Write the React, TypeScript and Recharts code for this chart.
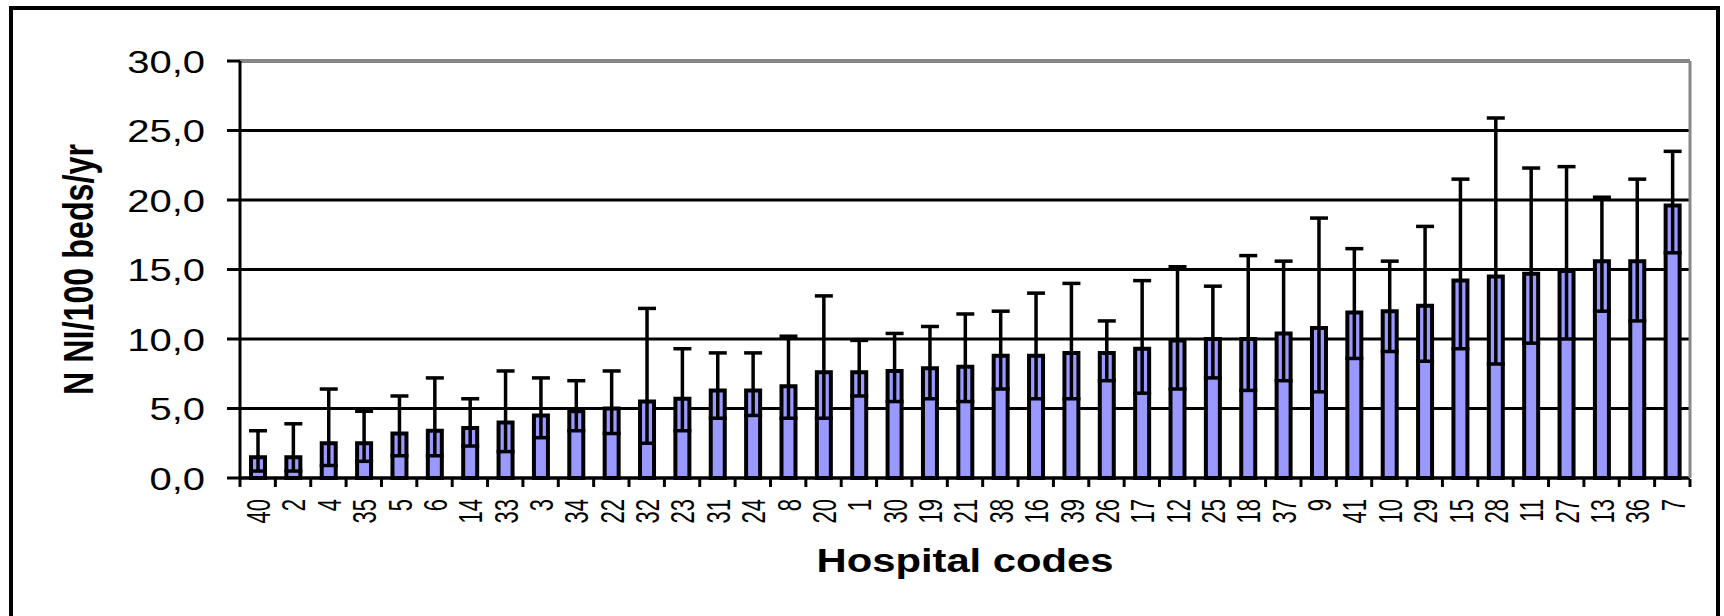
import { BarChart, Bar, XAxis, YAxis, CartesianGrid, ErrorBar, ReferenceLine } from 'recharts';

// hospital codes, sorted by rate (as in the source figure)
const codes = [40, 2, 4, 35, 5, 6, 14, 33, 3, 34, 22, 32, 23, 31, 24, 8, 20, 1, 30, 19, 21, 38, 16, 39, 26, 17, 12, 25, 18, 37, 9, 41, 10, 29, 15, 28, 11, 27, 13, 36, 7];

// N NI / 100 beds / yr
const rates = [1.5, 1.5, 2.5, 2.5, 3.2, 3.4, 3.6, 4.0, 4.5, 4.8, 5.0, 5.5, 5.7, 6.3, 6.3, 6.6, 7.6, 7.6, 7.7, 7.9, 8.0, 8.8, 8.8, 9.0, 9.0, 9.3, 9.9, 10.0, 10.0, 10.4, 10.8, 11.9, 12.0, 12.4, 14.2, 14.5, 14.7, 14.9, 15.6, 15.6, 19.6];

// confidence interval bounds
const upper = [3.4, 3.9, 6.4, 4.8, 5.9, 7.2, 5.7, 7.7, 7.2, 7.0, 7.7, 12.2, 9.3, 9.0, 9.0, 10.2, 13.1, 9.9, 10.4, 10.9, 11.8, 12.0, 13.3, 14.0, 11.3, 14.2, 15.2, 13.8, 16.0, 15.6, 18.7, 16.5, 15.6, 18.1, 21.5, 25.9, 22.3, 22.4, 20.2, 21.5, 23.5];
const lower = [0.5, 0.5, 0.9, 1.2, 1.6, 1.6, 2.3, 1.9, 2.9, 3.4, 3.2, 2.5, 3.4, 4.3, 4.5, 4.3, 4.3, 5.9, 5.5, 5.7, 5.5, 6.4, 5.7, 5.7, 7.0, 6.1, 6.4, 7.2, 6.3, 7.0, 6.2, 8.6, 9.1, 8.4, 9.3, 8.2, 9.7, 10.0, 12.0, 11.3, 16.2];

const yTicks = [0, 5, 10, 15, 20, 25, 30];
// category boundaries, for the tick marks between bars
const edgeTicks = Array.from({ length: codes.length + 1 }, (_, i) => i);

const chartData = codes.map((code, i) => ({
  code: String(code),
  pos: i + 0.5,
  rate: rates[i],
  err: [rates[i] - lower[i], upper[i] - rates[i]],
}));

const FONT = '"Liberation Sans", Arial, sans-serif';

const CodeTick = ({ x, y, payload }: any) => (
  <g transform={`translate(${x},${y}) rotate(-90) scale(1,1.55)`}>
    <text x={0} y={8} textAnchor="end" fontSize={22} fontFamily={FONT} fill="#000">
      {payload.value}
    </text>
  </g>
);

const ValueTick = ({ x, y, payload }: any) => (
  <g transform={`translate(${x},${y}) scale(1.25,1)`}>
    <text x={0} y={11.5} textAnchor="end" fontSize={32} fontFamily={FONT} fill="#000">
      {Number(payload.value).toFixed(1).replace('.', ',')}
    </text>
  </g>
);

const NoTick = () => <g />;

const YTitle = (props: any) => {
  const vb = props.viewBox || { x: 0, y: 61, width: 240, height: 417 };
  return (
    <g transform={`translate(${vb.x + 93},${vb.y + vb.height / 2}) rotate(-90) scale(1,1.45)`}>
      <text x={0} y={0} textAnchor="middle" fontSize={29} fontWeight="bold" fontFamily={FONT} fill="#000"
        textLength={251} lengthAdjust="spacingAndGlyphs">
        N NI/100 beds/yr
      </text>
    </g>
  );
};

const XTitle = (props: any) => {
  const vb = props.viewBox || { x: 240, y: 478, width: 1450, height: 1 };
  return (
    <text x={vb.x + vb.width / 2} y={478 + 94} textAnchor="middle" fontSize={33} fontWeight="bold"
      fontFamily={FONT} fill="#000" textLength={297} lengthAdjust="spacingAndGlyphs">
      Hospital codes
    </text>
  );
};

const App = () => {
  return (
    <div style={{ position: 'absolute', left: 0, top: 0, width: 1724, height: 616, overflow: 'hidden', background: '#fff' }}>
      <BarChart width={1724} height={616} data={chartData} margin={{ top: 61, right: 33, left: 0, bottom: 136 }}>
        <CartesianGrid vertical={false} stroke="#000" strokeWidth={3} />
        <XAxis
          xAxisId="edge"
          dataKey="pos"
          type="number"
          domain={[0, codes.length]}
          ticks={edgeTicks}
          interval={0}
          tick={<NoTick />}
          tickSize={8}
          tickLine={{ stroke: '#000', strokeWidth: 3 }}
          axisLine={false}
          height={1}
          allowDataOverflow
        />
        <XAxis
          dataKey="code"
          interval={0}
          height={1}
          tickSize={0}
          tickMargin={21}
          tickLine={false}
          axisLine={{ stroke: '#000', strokeWidth: 3 }}
          tick={<CodeTick />}
          label={{ content: XTitle }}
        />
        <YAxis
          domain={[0, 30]}
          ticks={yTicks}
          width={240}
          tickSize={13}
          tickMargin={22}
          tickLine={{ stroke: '#000', strokeWidth: 3 }}
          axisLine={{ stroke: '#000', strokeWidth: 3 }}
          tick={<ValueTick />}
          label={{ content: YTitle }}
        />
        <YAxis
          yAxisId="right"
          orientation="right"
          domain={[0, 30]}
          width={1}
          tick={false}
          tickLine={false}
          axisLine={{ stroke: '#888', strokeWidth: 3 }}
        />
        <ReferenceLine y={30} stroke="#888" strokeWidth={3} />
        <Bar dataKey="rate" fill="#9999FF" stroke="#000" strokeWidth={4} barSize={14} isAnimationActive={false}>
          <ErrorBar dataKey="err" direction="y" width={9} stroke="#000" strokeWidth={3.5} isAnimationActive={false} />
        </Bar>
      </BarChart>
      <div
        style={{
          position: 'absolute', left: 9, top: 6, width: 1711, height: 700,
          boxSizing: 'border-box', border: '4px solid #000', pointerEvents: 'none',
        }}
      />
    </div>
  );
};

export default App;
